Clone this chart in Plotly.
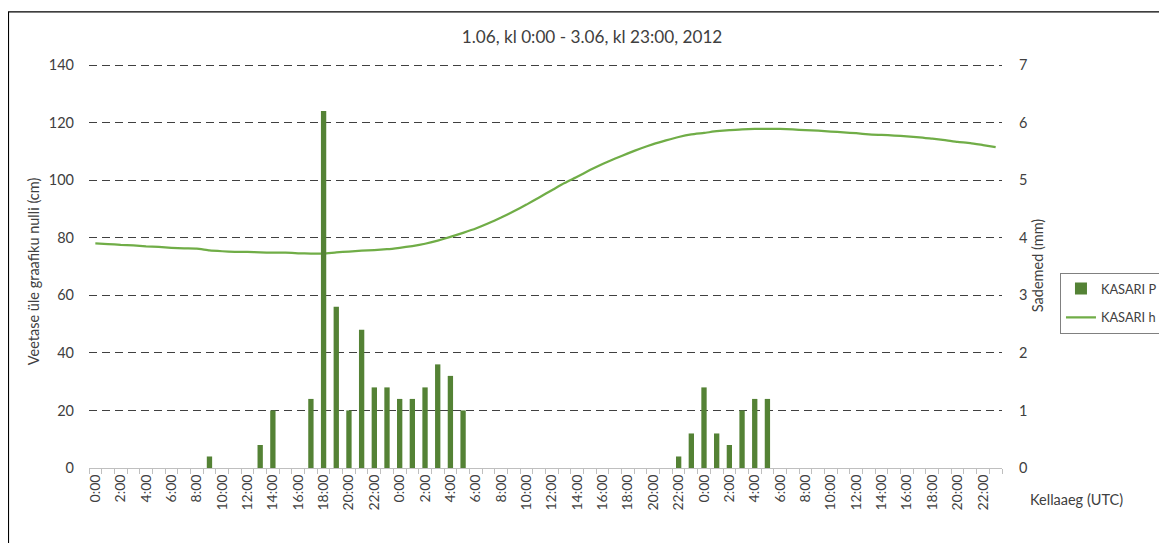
import plotly.graph_objects as go

# ---- data ----
hour_labels = [f"{h}:00" for h in range(24)] * 3
hours = list(range(72))

precip_mm = [
    0, 0, 0, 0, 0, 0, 0, 0, 0, 0.2, 0, 0, 0, 0.4, 1.0, 0, 0, 1.2, 6.2, 2.8, 1.0, 2.4, 1.4, 1.4,
    1.2, 1.2, 1.4, 1.8, 1.6, 1.0, 0, 0, 0, 0, 0, 0, 0, 0, 0, 0, 0, 0, 0, 0, 0, 0, 0.2, 0.6,
    1.4, 0.6, 0.4, 1.0, 1.2, 1.2, 0, 0, 0, 0, 0, 0, 0, 0, 0, 0, 0, 0, 0, 0, 0, 0, 0, 0,
]

level_cm = [
    78.0, 77.8, 77.5, 77.3, 77.0, 76.8, 76.5, 76.3, 76.2, 75.6, 75.3, 75.1,
    75.1, 74.9, 74.8, 74.8, 74.6, 74.5, 74.5, 74.9, 75.2, 75.5, 75.7, 76.0,
    76.5, 77.1, 77.9, 79.0, 80.3, 81.7, 83.2, 85.0, 87.0, 89.2, 91.5, 94.0,
    96.5, 99.0, 101.2, 103.5, 105.6, 107.5, 109.3, 111.0, 112.5, 113.8, 115.0, 115.9,
    116.4, 117.0, 117.4, 117.6, 117.8, 117.8, 117.8, 117.6, 117.4, 117.2, 116.9, 116.6,
    116.3, 115.9, 115.7, 115.5, 115.2, 114.9, 114.4, 113.9, 113.3, 112.9, 112.2, 111.5,
]

left_ticks = [0, 20, 40, 60, 80, 100, 120, 140]
right_ticks = [0, 1, 2, 3, 4, 5, 6, 7]

title_text = "1.06, kl 0:00 - 3.06, kl 23:00, 2012"
left_title = "Veetase üle graafiku nulli (cm)"
right_title = "Sademed (mm)"
x_title = "Kellaaeg (UTC)"

FONT = "Lato"
TXT = "#404040"

fig = go.Figure()
fig.add_trace(go.Bar(
    x=hours, y=precip_mm, name="KASARI P", yaxis="y2", legendgroup="p",
    marker=dict(color="#548235", line=dict(width=0)), width=0.42,
))
fig.add_trace(go.Scatter(
    x=hours, y=level_cm, name="KASARI h", mode="lines", legendgroup="h",
    line=dict(color="#70AD47", width=2.25, shape="spline", smoothing=0.4),
))

even = [h for h in hours if h % 2 == 0]
fig.update_layout(
    width=1159, height=535,
    margin=dict(l=81, r=165, t=55, b=75, autoexpand=False),
    paper_bgcolor="white", plot_bgcolor="white",
    font=dict(family=FONT, size=14, color=TXT),
    title=dict(text=title_text, x=0.5039, xanchor="center", y=0.9458, yanchor="middle",
               font=dict(family=FONT, size=17.2, color=TXT)),
    showlegend=True,
    legend=dict(x=1.0635, y=0.482, xanchor="left", yanchor="top",
                bordercolor="#808080", borderwidth=1, bgcolor="white",
                font=dict(family=FONT, size=12.8, color=TXT),
                tracegroupgap=9, itemwidth=30),
    xaxis=dict(
        range=[-0.5, 71.5], tickmode="array", tickvals=even,
        ticktext=[hour_labels[h] for h in even], tickangle=-90,
        ticks="", showgrid=False, zeroline=False,
        showline=True, linecolor="#bfbfbf", linewidth=1,
        tickfont=dict(size=14, color=TXT),
        minor=dict(ticks="outside", tick0=-0.5, dtick=1, ticklen=5,
                   tickcolor="#bfbfbf", tickwidth=1, showgrid=False),
    ),
    yaxis=dict(
        range=[0, 140.7], tickmode="array", tickvals=left_ticks,
        showgrid=True, gridcolor="#404040", gridwidth=1.3, griddash="8px,5px",
        zeroline=True, zerolinecolor="#bfbfbf", zerolinewidth=1,
        showline=False, ticks="", ticklabelstandoff=14,
        tickfont=dict(size=14.5, color=TXT),
    ),
    yaxis2=dict(
        range=[0, 7.035], tickmode="array", tickvals=right_ticks,
        overlaying="y", side="right", showgrid=False, zeroline=False,
        showline=False, ticks="", ticklabelstandoff=16,
        title=dict(text=right_title, standoff=6, font=dict(size=14.5, color=TXT)),
        tickfont=dict(size=14.5, color=TXT),
    ),
    annotations=[
        dict(text=x_title, xref="paper", yref="paper", x=1.029, y=-0.077,
             xanchor="left", yanchor="middle", showarrow=False,
             font=dict(family=FONT, size=14.5, color=TXT)),
        dict(text=left_title, xref="paper", yref="paper", x=-0.0613, y=0.486,
             xanchor="center", yanchor="middle", textangle=-90, showarrow=False,
             font=dict(family=FONT, size=14.5, color=TXT)),
    ],
    shapes=[dict(type="rect", xref="paper", yref="paper",
                 x0=-0.0882, x1=1.3, y0=-0.3, y1=1.126,
                 line=dict(color="black", width=1.2), fillcolor="rgba(0,0,0,0)", layer="below")],
)

fig.write_html(
    "out.html",
    post_script="document.documentElement.style.overflow='hidden';document.body.style.overflow='hidden';",
)
